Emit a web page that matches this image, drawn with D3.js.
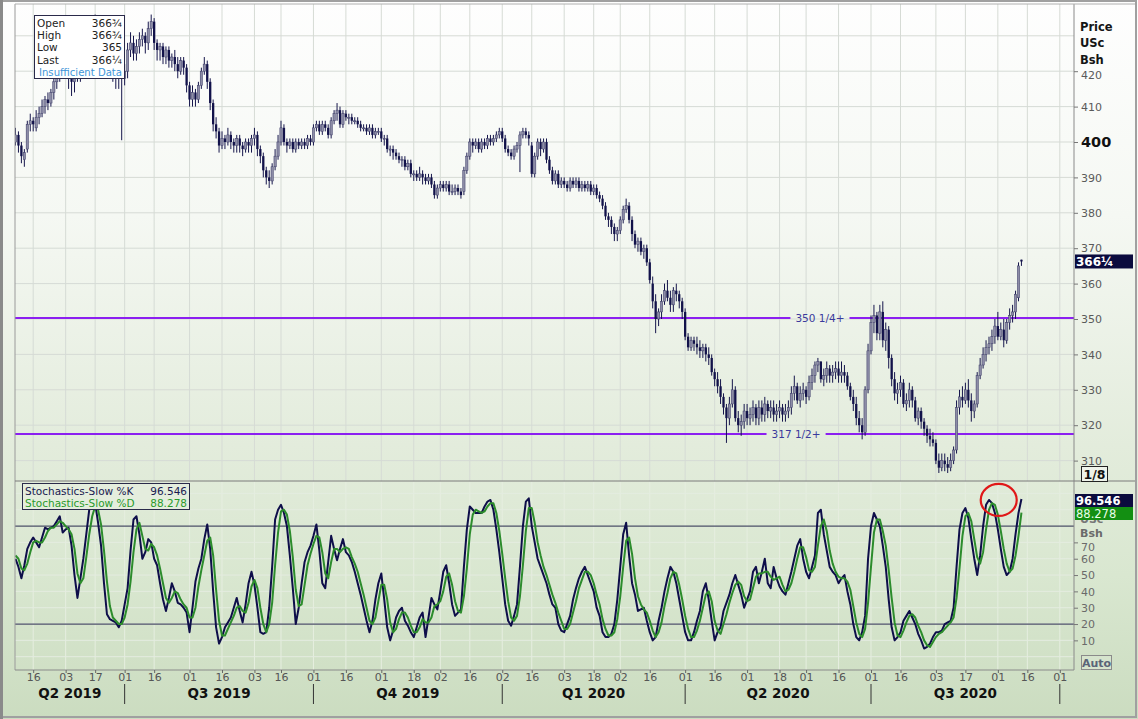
<!DOCTYPE html>
<html><head><meta charset="utf-8">
<script src="https://cdn.jsdelivr.net/npm/d3@7"></script>
<style>
body{margin:0;background:#fff;}
svg{display:block;font-family:"DejaVu Sans",Verdana,sans-serif;}
</style>
</head><body>
<svg id="c" width="1138" height="719"></svg>
<script>
// ---------------- DATA ----------------
const startDate = "2019-05-08";
const holidays = ["2019-05-27","2019-07-04","2019-09-02","2019-11-28","2019-12-25","2020-01-01","2020-01-20","2020-02-17","2020-04-10","2020-05-25","2020-07-03","2020-09-07"];

const open = [
400,402,399,395,398,405,406,404,407,408, 410,412,411,414,417,419,421,423,420,418,
417,419,421,420,423,426,428,430,433,428, 425,422,424,421,420,418,419,418,420,426,
428,425,427,429,430,428,432,434,428,426, 427,424,426,423,424,422,420,423,421,416,
412,414,412,416,420,422,417,411,405,403, 399,401,400,402,400,399,401,399,398,400,
399,401,402,398,396,392,390,389,393,396, 400,404,400,399,400,398,400,399,400,399,
401,400,404,405,403,405,404,402,406,408, 409,405,408,407,407,406,406,405,404,404,
403,404,402,403,403,401,401,398,398,397, 396,395,395,393,394,391,391,390,391,390,
389,390,388,385,387,388,387,388,386,386, 387,386,386,392,396,400,399,400,398,400,
399,401,400,401,402,403,401,398,397,396, 398,399,402,403,402,399,391,396,400,398,
400,395,392,389,391,388,389,388,387,389, 388,389,387,388,387,388,386,387,385,384,
382,379,378,376,374,375,378,381,382,378, 374,371,372,369,370,366,360,355,350,352,
355,358,356,354,358,357,355,352,345,342, 344,343,342,341,342,340,339,335,333,331,
328,325,322,326,330,322,320,321,324,322, 323,325,322,325,323,326,324,325,323,324,
325,323,324,325,329,331,327,329,330,328, 332,334,337,338,333,334,336,334,335,336,
334,335,334,331,328,326,322,320,318,330, 341,349,351,346,352,344,347,339,333,329,
330,332,326,327,330,327,322,324,321,319, 317,316,315,310,308,310,309,308,310,313,
325,328,327,330,327,324,326,334,337,340, 342,343,345,348,345,347,344,349,351,352,356,366.75];

const high = [
404,403,400,398,406,408,407,409,410,412, 413,414,415,418,421,423,425,424,421,419,
421,422,423,425,428,430,432,436,434,429, 426,426,425,423,422,421,420,422,428,431,
430,429,431,432,431,434,436,435,429,428, 428,427,427,425,426,424,424,424,422,417,
416,415,417,421,424,423,418,412,407,404, 403,402,404,403,401,402,402,400,401,401,
402,404,403,399,397,393,392,394,398,402, 406,405,401,401,401,401,401,401,401,402,
402,405,406,406,406,406,405,407,409,411, 410,409,409,408,408,407,407,406,405,405,
405,405,404,404,404,402,402,399,399,398, 397,396,396,395,395,392,392,393,392,391,
391,391,389,388,389,389,389,389,388,388, 388,387,393,397,401,401,401,401,401,401,
402,402,402,403,404,404,402,399,398,399, 400,403,404,404,403,400,397,401,401,401,
401,396,393,392,392,390,390,389,390,390, 390,390,389,389,389,389,388,388,386,385,
383,380,379,377,376,379,382,384,383,379, 375,373,373,371,371,367,362,357,353,357,
360,361,358,359,360,358,356,353,346,345, 345,345,344,343,343,342,340,336,335,333,
329,326,328,333,331,324,323,326,326,325, 327,326,327,327,328,327,327,327,326,327,
326,326,327,331,334,332,331,332,331,334, 336,338,339,338,336,338,337,337,338,338,
338,337,335,332,330,328,324,322,331,343, 351,354,352,354,355,349,348,340,335,332,
334,333,329,332,331,328,325,325,322,320, 319,318,316,312,312,312,311,312,314,327,
330,331,332,333,329,327,335,339,342,344, 345,347,350,352,349,350,350,353,354,358,366,366.75];

const low = [
399,397,394,393,397,403,403,403,405,407, 408,409,410,412,415,417,419,418,415,413,
414,417,417,418,421,424,426,428,426,423, 420,420,419,417,415,415,400.5,416,418,424,
423,423,425,427,425,426,430,426,423,423, 422,422,421,421,420,418,419,419,414,410,
410,410,411,415,419,415,409,403,401,397, 398,398,399,398,397,397,397,396,397,397,
397,399,396,394,390,388,387,388,392,395, 399,399,397,398,397,397,398,398,398,398,
399,399,403,402,402,403,401,401,405,406, 404,404,406,405,405,405,404,403,403,402,
402,401,401,402,400,399,397,396,395,395, 394,393,392,392,390,389,389,389,388,388,
388,387,384,384,386,386,386,385,385,385, 385,384,385,391,395,397,398,397,397,398,
398,399,399,400,401,400,397,396,395,395, 397,391.5,401,401,399,390,390,395,396,397,
394,391,388,388,387,387,387,386,386,387, 387,386,386,386,386,385,385,384,383,381,
378,376,374,372,372,374,377,380,377,372, 370,369,368,367,365,360,353,346,348,350,
354,355,352,352,355,353,350,344,341,341, 341,340,339,339,338,337,334,331,329,326,
323,315,320,325,321,318,317,319,320,320, 321,320,320,321,321,322,322,321,321,322,
321,321,322,323,327,326,325,327,326,327, 330,332,335,332,331,332,332,332,333,332,
332,332,330,327,324,320,318,316,317,329, 340,346,344,344,342,341,336,331,327,326,
328,325,324,325,325,321,320,319,317,315, 314,314,309,306.5,307,307,306.5,307,309,312,
323,325,326,325,321,322,325,333,336,338, 340,341,343,344,344,342,343,347,349,350,355,365];

const close = [
402,399,396,397,405,406,405,407,408,410, 412,411,414,417,419,421,423,420,418,417,
419,421,420,423,426,428,430,433,428,425, 422,424,421,420,418,419,418,420,426,428,
425,427,429,430,428,432,434,428,426,427, 424,426,423,424,422,420,423,421,416,412,
414,412,416,420,422,417,411,405,403,399, 401,400,402,400,399,401,399,398,400,399,
401,402,398,396,392,390,389,393,396,400, 404,400,399,400,398,400,399,400,399,401,
400,404,405,403,405,404,402,406,408,409, 405,408,407,407,406,406,405,404,404,403,
404,402,403,403,401,401,398,398,397,396, 395,395,393,394,391,391,390,391,390,389,
390,388,385,387,388,387,388,386,386,387, 386,385,392,396,400,399,400,398,400,399,
401,400,401,402,403,401,398,397,396,398, 399,402,403,402,401,391,396,400,398,400,
395,392,389,391,388,389,388,387,389,388, 389,387,388,387,388,386,387,385,384,382,
379,378,376,374,375,378,381,382,378,374, 371,372,369,370,366,361,355,350,352,355,
358,356,354,358,357,355,352,345,342,344, 343,342,341,342,340,339,335,333,331,328,
325,322,326,330,322,320,321,324,322,323, 325,322,325,323,326,324,325,323,324,325,
323,324,325,329,331,327,329,330,328,332, 334,337,338,333,334,336,334,335,336,334,
335,334,331,328,326,322,320,318,330,341, 349,351,346,352,344,347,339,333,329,330,
332,326,327,330,327,322,324,321,319,317, 316,315,310,308,310,309,308,310,313,325,
328,327,330,327,324,326,334,337,340,342, 343,345,348,345,347,344,349,351,352,357,365,366.25];

const stochK = [
60,55,48,56,66,70,73,70,67,73, 79,78,79,80,83,86,76,78,79,68,
50,36,48,60,75,90,93,94,82,68, 45,26,23,22,21,18,22,32,42,65,
84,86,75,60,64,72,70,60,56,45, 35,28,36,45,40,33,32,30,27,15,
30,46,54,60,72,81,66,40,18,8, 12,18,21,24,30,36,28,21,32,45,
52,44,30,15,14,15,30,55,84,90, 93,88,80,62,42,20,30,45,58,64,
68,74,81,65,45,42,58,74,66,59, 66,72,64,62,58,52,45,38,30,22,
15,22,35,45,51,35,18,10,16,24, 28,30,22,19,15,12,18,24,27,12,
24,36,32,29,40,52,56,45,32,25, 27,29,55,78,92,90,88,88,88,92,
95,96,90,78,64,48,32,22,19,25, 32,55,80,95,97,80,70,60,55,50,
45,38,32,30,20,16,15,20,25,35, 42,48,52,55,50,45,40,30,25,15,
12,12,14,20,35,55,75,82,62,45, 38,28,29,30,22,15,10,12,22,30,
40,48,55,52,45,35,25,15,10,10, 15,22,28,40,45,35,22,10,15,18,
28,33,38,45,50,44,38,30,35,40, 52,55,45,52,60,45,42,55,48,43,
40,38,45,52,60,68,72,60,52,48, 55,62,88,90,75,65,55,52,50,45,
48,50,40,32,20,12,10,15,25,60, 80,88,84,80,68,55,35,18,10,12,
15,22,25,28,24,20,14,10,5,6, 8,12,15,15,16,20,21,22,30,55,
78,88,91,85,72,60,50,62,80,93, 96,94,88,78,66,55,50,52,60,75,88,96.546];

const stochD = [
62,60,54,53,57,64,70,71,70,70, 73,77,79,79,81,83,82,80,78,75,
66,51,45,48,61,75,86,92,90,81, 65,46,31,24,22,20,20,24,32,46,
64,78,82,74,66,65,69,67,62,54, 45,36,33,36,40,39,35,32,30,24,
24,30,43,53,62,71,73,62,41,22, 13,13,17,21,25,30,31,28,27,33,
43,47,42,30,20,15,20,33,56,76, 89,90,87,77,61,41,31,32,44,56,
63,69,74,73,64,51,48,58,66,66, 64,66,67,66,61,57,52,45,38,30,
22,20,24,34,44,44,35,21,15,17, 23,27,27,24,19,15,15,18,23,21,
21,24,31,32,34,40,49,51,44,34, 28,27,37,54,75,87,90,89,88,89,
92,94,94,88,77,63,48,34,24,22, 25,37,56,77,91,91,82,70,62,55,
50,44,38,33,27,22,17,17,20,27, 34,42,47,52,52,50,45,38,32,23,
17,13,13,15,23,37,55,71,73,63, 48,37,32,29,27,22,16,12,15,21,
31,39,48,52,51,44,35,25,17,12, 12,16,22,30,38,40,34,22,16,14,
20,26,33,39,44,46,44,37,34,35, 42,49,51,51,52,52,49,47,48,49,
44,40,41,45,52,60,67,67,61,53, 52,55,68,80,84,77,65,57,52,49,
48,48,46,41,31,21,14,12,17,33, 55,76,84,84,77,68,53,36,21,13,
12,16,21,25,26,24,19,15,10,7, 6,9,12,14,15,17,19,21,24,36,
54,74,86,88,83,72,61,57,64,78, 90,94,93,87,77,66,57,52,54,62,74,88.278];

const priceTicks = [310,320,330,340,350,360,370,380,390,400,410,420];
const stochTicks = [10,20,30,40,50,60,70];
const stochBands = [80,20];
const tickDates = ["2019-05-16","2019-06-03","2019-06-17","2019-07-01","2019-07-16","2019-08-01","2019-08-16","2019-09-03","2019-09-16","2019-10-01","2019-10-16","2019-11-01","2019-11-18","2019-12-02","2019-12-16","2020-01-02","2020-01-16","2020-02-03","2020-02-18","2020-03-02","2020-03-16","2020-04-01","2020-04-16","2020-05-01","2020-05-18","2020-06-01","2020-06-16","2020-07-01","2020-07-16","2020-08-03","2020-08-17","2020-09-01","2020-09-16","2020-10-01"];
const tickLabels = ["16","03","17","01","16","01","16","03","16","01","16","01","18","02","16","02","16","03","18","02","16","01","16","01","18","01","16","01","16","03","17","01","16","01"];
const quarterNames = ["Q2 2019","Q3 2019","Q4 2019","Q1 2020","Q2 2020","Q3 2020"];
const quarterStarts = ["2019-07-01","2019-10-01","2020-01-02","2020-04-01","2020-07-01","2020-10-01"];
const levelValues = [350.25, 317.5];
const levelLabels = ["350 1/4+", "317 1/2+"];
const legendRows = [["Open","366\u00BE"],["High","366\u00BE"],["Low","365"],["Last","366\u00BC"]];
const lastPriceLabel = "366\u00BC";
const lastK = "96.546", lastD = "88.278";

// ---------------- TRADING DAYS ----------------
const days = [];
{ let d = new Date(startDate + "T00:00:00Z");
  while (days.length < 365) {
    const s = d.toISOString().slice(0,10), w = d.getUTCDay();
    if (w !== 0 && w !== 6 && !holidays.includes(s)) days.push(s);
    d.setUTCDate(d.getUTCDate() + 1);
  } }
const idxOf = s => days.indexOf(s);

// ---------------- LAYOUT ----------------
const svg = d3.select("#c");
const FONT = '"DejaVu Sans",Verdana,sans-serif';
const L = 15, R = 1074, mTop = 4, mBot = 481, sBot = 670;

const x = d3.scaleLinear().domain([0, 354]).range([15.5, 1059.8]);
const yP = d3.scaleLinear().domain([310, 400]).range([460.6, 142]);
const yS = d3.scaleLinear().domain([0, 100]).range([656.7, 493.4]);

const defs = svg.append("defs");
const gr = defs.append("linearGradient").attr("id","bg").attr("x1",0).attr("y1",0).attr("x2",0).attr("y2",1);
[[0,"#fefefe"],[0.3,"#f5f8f3"],[0.62,"#e3ecdc"],[0.8,"#d9e7d0"],[1,"#cbdcc0"]].forEach(s=>gr.append("stop").attr("offset",s[0]).attr("stop-color",s[1]));
defs.append("clipPath").attr("id","cm").append("rect").attr("x",L).attr("y",mTop).attr("width",R-L).attr("height",mBot-mTop);
defs.append("clipPath").attr("id","cs").append("rect").attr("x",L).attr("y",mBot+1).attr("width",R-L).attr("height",sBot-mBot-1);
defs.append("clipPath").attr("id","cu").append("rect").attr("x",1076).attr("y",520).attr("width",60).attr("height",10);

svg.append("rect").attr("width",1138).attr("height",719).attr("fill","url(#bg)");

const tickIdx = tickDates.map(idxOf);

// grid main
const gm = svg.append("g").attr("clip-path","url(#cm)");
gm.selectAll("line.v").data(tickIdx).join("line")
  .attr("x1",d=>x(d)).attr("x2",d=>x(d)).attr("y1",mTop).attr("y2",mBot)
  .attr("stroke","#d6dbd5").attr("stroke-width",1);
gm.selectAll("line.h").data([430,...priceTicks]).join("line")
  .attr("x1",L).attr("x2",R).attr("y1",d=>yP(d)).attr("y2",d=>yP(d))
  .attr("stroke","#d6dbd5").attr("stroke-width",1);

// grid stoch
const gs = svg.append("g").attr("clip-path","url(#cs)");
gs.selectAll("line.v").data(tickIdx).join("line")
  .attr("x1",d=>x(d)).attr("x2",d=>x(d)).attr("y1",mBot).attr("y2",sBot)
  .attr("stroke","#e6eee0").attr("stroke-width",1);
gs.selectAll("line.h").data([0,...stochTicks,90,100]).join("line")
  .attr("x1",L).attr("x2",R).attr("y1",d=>yS(d)).attr("y2",d=>yS(d))
  .attr("stroke","#e4ece0").attr("stroke-width",1);

// level lines
const lineCol = "#8b1ff0";
levelValues.forEach((v,k)=>{
  const idxCenter = k===0 ? 272.7 : 264.6;
  const cx = x(idxCenter), yy = yP(v);
  const t = svg.append("text").attr("x",cx).attr("y",yy+3.6).attr("text-anchor","middle")
    .attr("font-size",10.5).attr("fill","#3a3a9c").attr("font-family",FONT).text(levelLabels[k]);
  const bb = t.node().getBBox();
  svg.insert("line","text").attr("x1",L).attr("x2",bb.x-5).attr("y1",yy).attr("y2",yy).attr("stroke",lineCol).attr("stroke-width",2);
  svg.insert("line","text").attr("x1",bb.x+bb.width+5).attr("x2",R).attr("y1",yy).attr("y2",yy).attr("stroke",lineCol).attr("stroke-width",2);
});

// candles
const gc = svg.append("g").attr("clip-path","url(#cm)");
const idx = d3.range(close.length);
gc.selectAll("line.w").data(idx).join("line")
  .attr("x1",i=>x(i)).attr("x2",i=>x(i)).attr("y1",i=>yP(high[i])).attr("y2",i=>yP(low[i]))
  .attr("stroke","#16164c").attr("stroke-width",1);
const bw = 2.3;
gc.selectAll("rect.b").data(idx).join("rect")
  .attr("x",i=>x(i)-bw/2).attr("width",bw)
  .attr("y",i=>yP(Math.max(open[i],close[i])))
  .attr("height",i=>Math.max(1,Math.abs(yP(open[i])-yP(close[i]))))
  .attr("fill",i=>close[i]>=open[i] ? "#8c8ca6" : "#12124a")
  .attr("stroke",i=>close[i]>=open[i] ? "#3a3a66" : "none").attr("stroke-width",0.5);

// stochastic bands
svg.selectAll("line.band").data(stochBands).join("line")
  .attr("x1",L).attr("x2",R).attr("y1",d=>yS(d)).attr("y2",d=>yS(d))
  .attr("stroke","#4c5068").attr("stroke-width",1.2);

// stochastic lines
const gl = svg.append("g").attr("clip-path","url(#cs)");
const lineK = d3.line().x((d,i)=>x(i)).y(d=>yS(d));
gl.append("path").attr("d",lineK(stochK)).attr("fill","none").attr("stroke","#0e0e4a").attr("stroke-width",2).attr("stroke-linejoin","round");
gl.append("path").attr("d",lineK(stochD)).attr("fill","none").attr("stroke","#2c8c2c").attr("stroke-width",2).attr("stroke-linejoin","round");

// frame lines
svg.append("line").attr("x1",L).attr("x2",L).attr("y1",mTop).attr("y2",sBot).attr("stroke","#9a9a9a");
svg.append("line").attr("x1",R).attr("x2",R).attr("y1",mTop).attr("y2",sBot).attr("stroke","#8a8a8a");
svg.append("line").attr("x1",L).attr("x2",1136).attr("y1",mTop).attr("y2",mTop).attr("stroke","#b0b0b0");
svg.append("line").attr("x1",L).attr("x2",1136).attr("y1",mBot).attr("y2",mBot).attr("stroke","#7a7a7a");
svg.append("line").attr("x1",L).attr("x2",R).attr("y1",sBot).attr("y2",sBot).attr("stroke","#8a8a8a");
svg.append("rect").attr("x",1).attr("y",1).attr("width",1135).attr("height",716).attr("fill","none").attr("stroke","#a0a0a0").attr("stroke-width",2);
svg.append("line").attr("x1",1.5).attr("x2",1.5).attr("y1",0).attr("y2",719).attr("stroke","#8a8a8a").attr("stroke-width",3);

// red circle
svg.append("ellipse").attr("cx",x(333.3)).attr("cy",yS(96)).attr("rx",18).attr("ry",16)
  .attr("fill","none").attr("stroke","#e01818").attr("stroke-width",2.2);

// ---------------- AXES ----------------
const ax = svg.append("g").attr("transform",`translate(${R},0)`)
  .call(d3.axisRight(yP).tickValues(priceTicks).tickSize(4).tickPadding(3).tickFormat(d3.format("d")));
ax.select(".domain").remove();
ax.selectAll("line").attr("stroke","#777");
ax.selectAll("text").attr("font-family",FONT)
  .attr("font-weight",d=>d===400?"bold":"normal")
  .attr("font-size",d=>d===400?14.5:11)
  .attr("fill",d=>d===400?"#111":"#5a5a5a")
  .attr("dy",d=>d===420?"0.62em":"0.34em");

const as = svg.append("g").attr("transform",`translate(${R},0)`)
  .call(d3.axisRight(yS).tickValues(stochTicks).tickSize(4).tickPadding(3));
as.select(".domain").remove();
as.selectAll("line").attr("stroke","#777");
as.selectAll("text").attr("font-family",FONT).attr("font-size",11).attr("fill","#6a6a6a")
  .attr("dy",d=>d===70?"0.7em":"0.34em");

const axb = svg.append("g").attr("transform",`translate(0,${sBot})`)
  .call(d3.axisBottom(x).tickValues(tickIdx).tickFormat((d,i)=>tickLabels[i]).tickSize(3).tickPadding(0));
axb.select(".domain").remove();
axb.selectAll("line").attr("stroke","#666");
axb.selectAll("text").attr("font-family",FONT).attr("font-size",11).attr("fill","#555");

// quarters
const qIdx = quarterStarts.map(idxOf);
const qBounds = [L, ...qIdx.map(i=>x(i))];
svg.selectAll("line.q").data(qIdx).join("line")
  .attr("x1",d=>x(d)).attr("x2",d=>x(d)).attr("y1",684).attr("y2",704)
  .attr("stroke","#333").attr("stroke-width",1);
svg.selectAll("text.q").data(quarterNames).join("text")
  .attr("x",(d,i)=>(qBounds[i]+qBounds[i+1])/2).attr("y",698)
  .attr("text-anchor","middle").attr("font-family",FONT).attr("font-weight","bold")
  .attr("font-size",13.5).attr("fill","#111").text(d=>d);

// right header
[["Price",31],["USc",47],["Bsh",64]].forEach(([t,yy])=>svg.append("text").attr("x",1080).attr("y",yy)
  .attr("font-family",FONT).attr("font-weight","bold").attr("font-size",11.5).attr("fill","#151515").text(t));

// last price box
svg.append("rect").attr("x",1075).attr("y",yP(366.25)-7).attr("width",58).attr("height",14).attr("fill","#0b0b3e");
svg.append("text").attr("x",1076).attr("y",yP(366.25)+4.5).attr("font-family",FONT).attr("font-weight","bold")
  .attr("font-size",12).attr("fill","#fff").text(lastPriceLabel);

// 1/8 box
svg.append("rect").attr("x",1081.5).attr("y",466.5).attr("width",26).attr("height",15).attr("fill","#eef3ea").attr("stroke","#222");
svg.append("text").attr("x",1094.5).attr("y",478.5).attr("text-anchor","middle").attr("font-family",FONT)
  .attr("font-weight","bold").attr("font-size",12.5).attr("fill","#111").text("1/8");

// stoch right header (USc is mostly hidden behind the value boxes, as in the source)
svg.append("g").attr("clip-path","url(#cu)").append("text").attr("x",1080).attr("y",523).attr("font-family",FONT).attr("font-weight","bold").attr("font-size",11).attr("fill","#777").text("USc");
svg.append("text").attr("x",1080).attr("y",537).attr("font-family",FONT).attr("font-weight","bold").attr("font-size",11).attr("fill","#6a6a6a").text("Bsh");
svg.append("rect").attr("x",1075).attr("y",494).attr("width",58).attr("height",13).attr("fill","#0b0b3e");
svg.append("text").attr("x",1076).attr("y",505).attr("font-family",FONT).attr("font-weight","bold").attr("font-size",11.5).attr("fill","#fff").text(lastK);
svg.append("rect").attr("x",1075).attr("y",507).attr("width",58).attr("height",13).attr("fill","#138f12");
svg.append("text").attr("x",1076).attr("y",518).attr("font-family",FONT).attr("font-size",11.5).attr("fill","#e8ffe8").text(lastD);

// Auto box
svg.append("rect").attr("x",1081.5).attr("y",655.5).attr("width",30).attr("height",14).attr("fill","#d6e4cd").attr("stroke","#8a8a8a");
svg.append("text").attr("x",1096.5).attr("y",666.5).attr("text-anchor","middle").attr("font-family",FONT)
  .attr("font-weight","bold").attr("font-size",11).attr("fill","#5a6478").text("Auto");

// main legend
svg.append("rect").attr("x",34.5).attr("y",15.5).attr("width",90).attr("height",63).attr("fill","#fff").attr("stroke","#2a2a4a");
legendRows.forEach(([k,v],i)=>{
  svg.append("text").attr("x",37).attr("y",27+i*12.2).attr("font-family",FONT).attr("font-size",10.5).attr("fill","#222").text(k);
  svg.append("text").attr("x",122).attr("y",27+i*12.2).attr("text-anchor","end").attr("font-family",FONT).attr("font-size",10.5).attr("fill","#222").text(v);
});
svg.append("text").attr("x",39).attr("y",75.5).attr("font-family",FONT).attr("font-size",10.5)
  .attr("textLength",83).attr("lengthAdjust","spacingAndGlyphs").attr("fill","#3f95d8").text("Insufficient Data");

// stoch legend
svg.append("rect").attr("x",22.5).attr("y",483.5).attr("width",167).attr("height",26).attr("fill","#e4eddd").attr("stroke","#2a2a4a");
svg.append("text").attr("x",25).attr("y",494.5).attr("font-family",FONT).attr("font-size",10.5).attr("fill","#1a1a50").text("Stochastics-Slow %K");
svg.append("text").attr("x",187).attr("y",494.5).attr("text-anchor","end").attr("font-family",FONT).attr("font-size",10.5).attr("fill","#1a1a50").text(lastK);
svg.append("text").attr("x",25).attr("y",506.5).attr("font-family",FONT).attr("font-size",10.5).attr("fill","#2a9a2a").text("Stochastics-Slow %D");
svg.append("text").attr("x",187).attr("y",506.5).attr("text-anchor","end").attr("font-family",FONT).attr("font-size",10.5).attr("fill","#2a9a2a").text(lastD);
</script>
</body></html>
